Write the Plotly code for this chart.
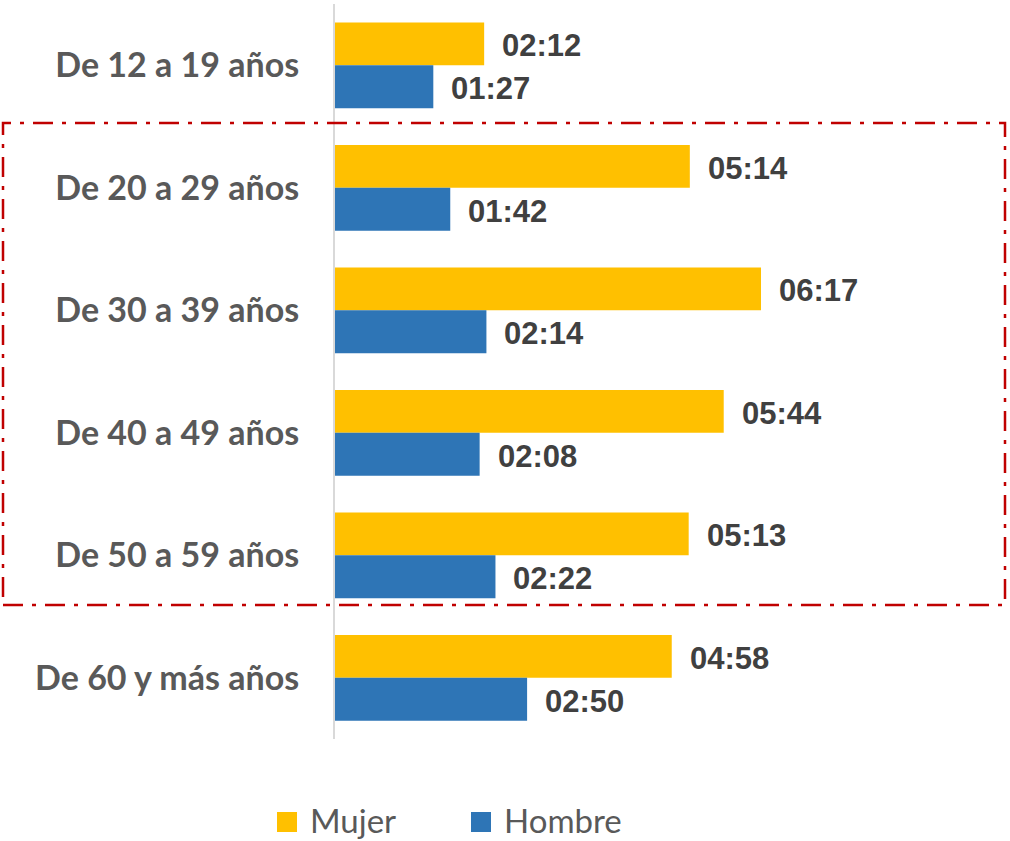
import plotly.graph_objects as go

categories = ["De 12 a 19 años", "De 20 a 29 años", "De 30 a 39 años",
              "De 40 a 49 años", "De 50 a 59 años", "De 60 y más años"]
mujer_labels = ["02:12", "05:14", "06:17", "05:44", "05:13", "04:58"]
hombre_labels = ["01:27", "01:42", "02:14", "02:08", "02:22", "02:50"]


def to_minutes(s):
    h, m = s.split(":")
    return int(h) * 60 + int(m)


mujer = [to_minutes(s) for s in mujer_labels]
hombre = [to_minutes(s) for s in hombre_labels]

YELLOW = "#FFC000"
BLUE = "#2E75B6"

W, H = 1010, 841
ML, MR, MT, MB = 335, 5, 4, 102
PW = W - ML - MR
PH = H - MT - MB


def px_x(p):
    return (p - ML) / PW


def px_y(p):
    return (H - MB - p) / PH


fig = go.Figure()
fig.add_trace(go.Bar(name="Mujer", y=categories, x=mujer, orientation="h",
                     marker=dict(color=YELLOW, line=dict(width=0)),
                     showlegend=False, hoverinfo="skip"))
fig.add_trace(go.Bar(name="Hombre", y=categories, x=hombre, orientation="h",
                     marker=dict(color=BLUE, line=dict(width=0)),
                     showlegend=False, hoverinfo="skip"))

val_font = dict(family="Liberation Sans Narrow, Arial Narrow, Liberation Sans, sans-serif",
                size=31, color="#404040")
band = PH / len(categories)
off = 0.175 * band
annotations = []
for c, v, t in zip(categories, mujer, mujer_labels):
    annotations.append(dict(x=v, y=c, xref="x", yref="y", text="<b>%s</b>" % t,
                            showarrow=False, xanchor="left", yanchor="middle",
                            xshift=16, yshift=off - 2, font=val_font))
for c, v, t in zip(categories, hombre, hombre_labels):
    annotations.append(dict(x=v, y=c, xref="x", yref="y", text="<b>%s</b>" % t,
                            showarrow=False, xanchor="left", yanchor="middle",
                            xshift=16, yshift=-off - 2, font=val_font))

# manual legend
leg_font = dict(family="Lato, Open Sans, sans-serif", size=33, color="#595959")
legend_items = [("Mujer", YELLOW, 277), ("Hombre", BLUE, 471)]
shapes = []
for name, col, x0 in legend_items:
    shapes.append(dict(type="rect", xref="paper", yref="paper",
                       x0=px_x(x0), x1=px_x(x0 + 20), y0=px_y(832), y1=px_y(812),
                       fillcolor=col, line=dict(width=0)))
    annotations.append(dict(x=px_x(x0 + 31), y=px_y(820), xref="paper", yref="paper",
                            text=name, showarrow=False, xanchor="left", yanchor="middle",
                            font=leg_font))

# highlight box
shapes.append(dict(type="rect", xref="paper", yref="paper",
                   x0=px_x(3), x1=px_x(1005), y0=px_y(605), y1=px_y(123),
                   line=dict(color="#C00000", width=2.5, dash="20px,9px,4px,9px"),
                   fillcolor="rgba(0,0,0,0)"))

fig.update_layout(
    width=W, height=H,
    margin=dict(l=ML, r=MR, t=MT, b=MB, pad=0),
    paper_bgcolor="white", plot_bgcolor="white",
    barmode="group", bargap=0.3, bargroupgap=0,
    showlegend=False,
    annotations=annotations,
    shapes=shapes,
    xaxis=dict(range=[0, PW / 1.13], visible=False, fixedrange=True),
    yaxis=dict(autorange="reversed", showline=True, linecolor="#D9D9D9", linewidth=2,
               showgrid=False, zeroline=False, ticks="", ticklabelstandoff=27,
               tickfont=dict(family="Lato, Open Sans, sans-serif", size=34,
                             color="#595959", weight="bold"),
               fixedrange=True),
)

fig.write_html("out.html", config={"displayModeBar": False},
               post_script="document.body.style.margin='0px';")
